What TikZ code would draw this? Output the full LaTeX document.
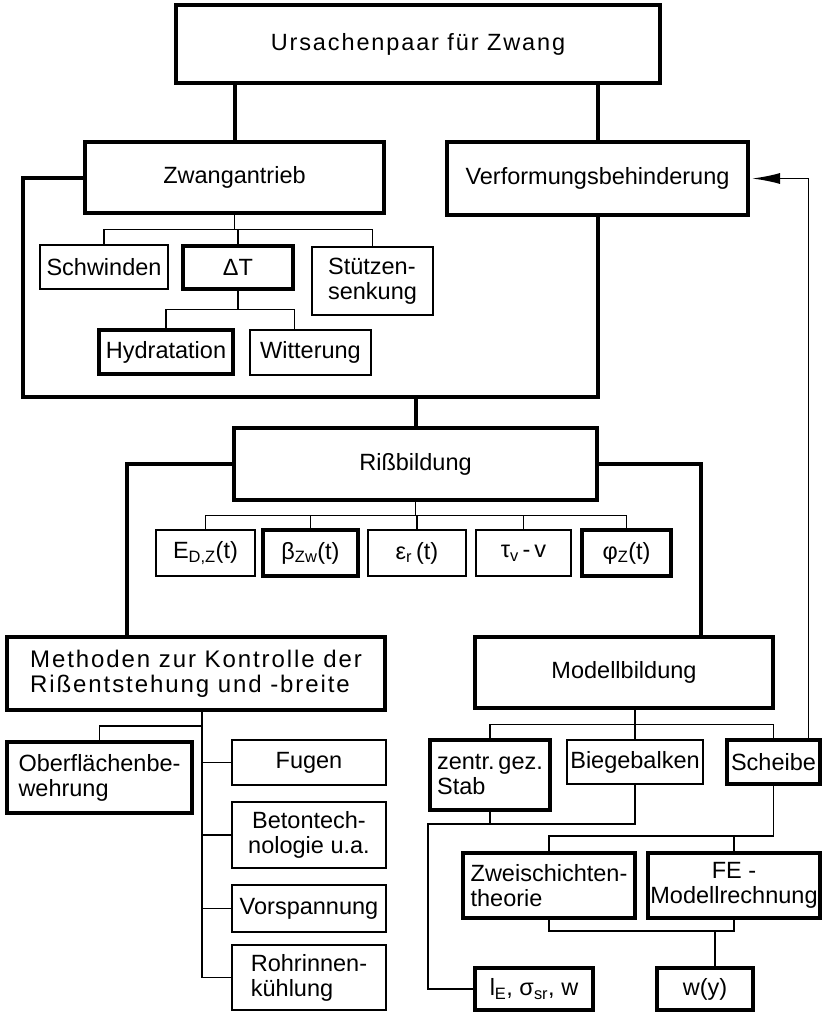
\documentclass[tikz,border=0pt]{standalone}
\usepackage{fontspec}
\setmainfont{Liberation Sans}
\usetikzlibrary{arrows.meta,calc,positioning}

\tikzset{
  bigbox/.style={draw,line width=4pt,inner sep=2pt},
  smallbox/.style={draw,line width=1.8pt,inner sep=2pt},
  boxsize/.style 2 args={minimum width=#1pt,minimum height=#2pt},
  mainline/.style={line width=4pt},
  subline/.style={line width=1.8pt},
  spaced/.style={font=\fontsize{#1}{25}\selectfont\addfontfeatures{LetterSpace=8}},
}

\begin{document}
\begin{tikzpicture}[x=1pt,y=-1pt,font=\fontsize{23.5}{25}\selectfont]
  \useasboundingbox (0,0) rectangle (826,1013);
  \node[bigbox,boxsize={484}{78},spaced=23.5] (cause) at (418,44) {Ursachenpaar für Zwang};
  \node[bigbox,boxsize={299}{71}] (drive) at (234.5,177.5) {Zwangantrieb};
  \node[bigbox,boxsize={301}{73}] (restraint) at (597.5,178.5) {Verformungsbehinderung};
  \node[smallbox,boxsize={128}{44}] (shrink) at (104,267) {Schwinden};
  \node[bigbox,boxsize={110}{43}] (deltaT) at (238,267.5) {ΔT};
  \node[smallbox,boxsize={121}{68},align=left] (settle) at (372.5,281) {Stützen-\\senkung};
  \node[bigbox,boxsize={134}{44}] (hydration) at (166,352) {Hydratation};
  \node[smallbox,boxsize={121}{45}] (weather) at (310.5,352.5) {Witterung};
  \node[bigbox,boxsize={363}{72}] (cracking) at (415.5,464) {Rißbildung};
  \node[smallbox,boxsize={99}{46}] (modulus) at (205.5,553) {E\textsubscript{D,Z}(t)};
  \node[bigbox,boxsize={95}{46}] (tensile) at (310.5,553) {β\textsubscript{Zw}(t)};
  \node[smallbox,boxsize={98}{46}] (strain) at (417,553) {ε\textsubscript{r}\,(t)};
  \node[smallbox,boxsize={95}{46}] (bond) at (523.5,553) {τ\textsubscript{v}\,-\,v};
  \node[bigbox,boxsize={89}{46}] (creep) at (626.5,553) {φ\textsubscript{Z}(t)};
  \node[bigbox,boxsize={378}{73},align=left,spaced=24] (methods) at (196,673.5)
    {Methoden zur Kontrolle der\\Rißentstehung und -breite};
  \node[bigbox,boxsize={185}{71},align=left] (surface) at (99.5,777.5) {Oberflächenbe-\\wehrung};
  \node[smallbox,boxsize={154}{45}] (joints) at (309,762.5) {Fugen};
  \node[smallbox,boxsize={154}{66},align=center] (concrete) at (309,835) {Betontech-\\nologie u.a.};
  \node[smallbox,boxsize={154}{47}] (prestress) at (309,908.5) {Vorspannung};
  \node[smallbox,boxsize={154}{65},align=left] (cooling) at (309,977.5) {Rohrinnen-\\kühlung};
  \node[bigbox,boxsize={298}{71}] (modelling) at (624,672.5) {Modellbildung};
  \node[bigbox,boxsize={120}{70},align=left] (bar) at (490,775) {zentr.\,gez.\\Stab};
  \node[smallbox,boxsize={136}{44}] (beam) at (635,762) {Biegebalken};
  \node[bigbox,boxsize={93}{44}] (plate) at (773.5,762) {Scheibe};
  \node[bigbox,boxsize={172}{65},align=left] (twolayer) at (549,885.5) {Zweischichten-\\theorie};
  \node[bigbox,boxsize={172}{65},align=center] (femodel) at (734,885.5) {FE -\\Modellrechnung};
  \node[bigbox,boxsize={118}{42}] (crackres) at (534,989) {l\textsubscript{E}, σ\textsubscript{sr}, w};
  \node[bigbox,boxsize={96}{42}] (widthfn) at (705,989) {w(y)};

  \draw[mainline] (drive.north) -- (drive.north |- cause.south);
  \draw[mainline] (restraint.north) -- (restraint.north |- cause.south);
  \coordinate (loopcorner) at (23,397);
  \draw[mainline] (drive.west) -| (loopcorner) -| (restraint.south);
  \draw[mainline] (cracking.north) -- (cracking.north |- loopcorner);
  \draw[mainline] (cracking.west) -| ($(methods.north west)!.32!(methods.north east)$);
  \draw[mainline] (cracking.east) -| ($(modelling.north west)!.755!(modelling.north east)$);

  \coordinate (drivefork) at ($(drive.south)!.5!(drive.south |- deltaT.north)$);
  \draw[subline] (drive.south) -- (drivefork);
  \foreach \n in {shrink,deltaT,settle}
    \draw[subline] (\n.north) |- (drivefork);
  \coordinate (tfork) at ($(deltaT.south)!.5!(deltaT.south |- hydration.north)$);
  \draw[subline] (deltaT.south) -- (tfork);
  \draw[subline] (hydration.north) |- (tfork) -| ([xshift=-16pt]weather.north);

  \coordinate (crackfork) at ($(cracking.south)!.5!(cracking.south |- strain.north)$);
  \draw[subline] (cracking.south) -- (crackfork);
  \foreach \n in {modulus,tensile,strain,bond,creep}
    \draw[subline] (\n.north) |- (crackfork);

  \coordinate (methstem) at ([xshift=6pt]methods.south);
  \coordinate (methfork) at ($(methstem)!.5!(methstem |- surface.north)$);
  \draw[subline] (methstem) |- (cooling.west);
  \draw[subline] (surface.north) |- (methfork);
  \foreach \n in {joints,concrete,prestress}
    \draw[subline] (\n.west) -| (methstem);

  \coordinate (modfork) at ($(beam.north |- modelling.south)!.5!(beam.north)$);
  \draw[subline] (beam.north |- modelling.south) -- (modfork);
  \foreach \n in {bar,beam,plate}
    \draw[subline] (\n.north) |- (modfork);
  \coordinate (barfork) at ([yshift=-12pt]bar.south west);
  \draw[subline] (bar.south) -- (bar.south |- barfork);
  \draw[subline] (beam.south) |- (barfork) |- (crackres.west);
  \coordinate (platefork) at ($(plate.south |- twolayer.north)+(0,-15)$);
  \draw[subline] (plate.south) -- (platefork);
  \draw[subline] (twolayer.north) |- (platefork);
  \draw[subline] (femodel.north) |- (platefork);
  \coordinate (resfork) at ($([xshift=10pt]widthfn.north)+(0,-35)$);
  \draw[subline] (resfork) -- ([xshift=10pt]widthfn.north);
  \draw[subline] (twolayer.south) |- (resfork);
  \draw[subline] (femodel.south) |- (resfork);

  \draw[subline,-{Latex[length=28pt,width=11pt]},shorten >=2pt]
    ($(plate.north west)!.86!(plate.north east)$) |- (restraint.east);
\end{tikzpicture}
\end{document}
